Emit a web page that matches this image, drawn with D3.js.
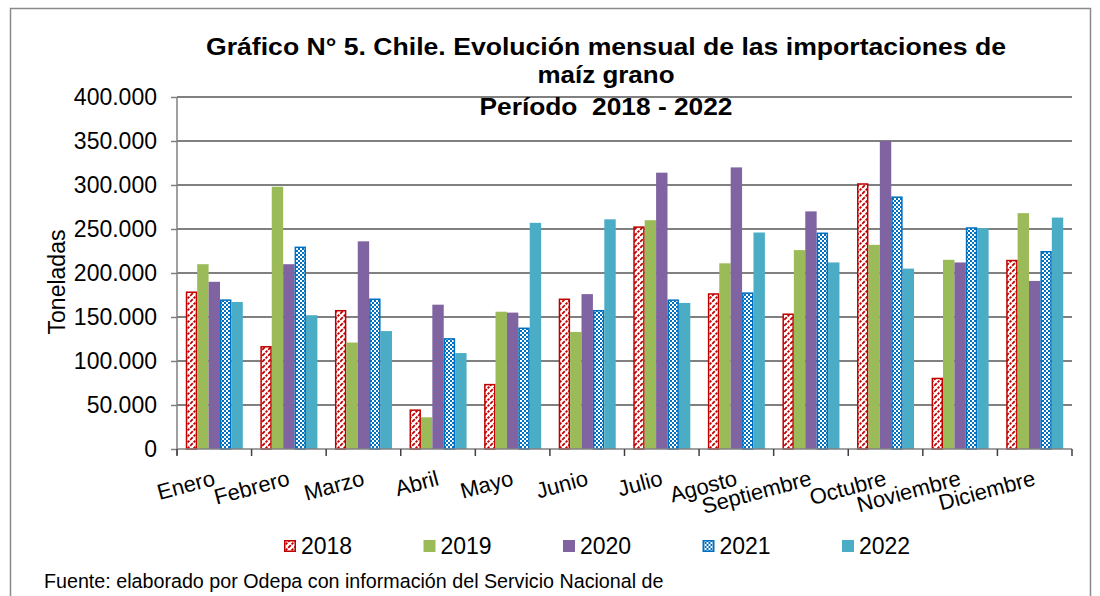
<!DOCTYPE html>
<html><head><meta charset="utf-8">
<script src="https://cdn.jsdelivr.net/npm/d3@7"></script>
<style>body{margin:0;background:#fff}svg{display:block}text{font-family:"Liberation Sans",Arial,sans-serif}</style>
</head><body><svg id="c" width="1100" height="596"></svg>
<script>
const months = ["Enero","Febrero","Marzo","Abril","Mayo","Junio","Julio","Agosto","Septiembre","Octubre","Noviembre","Diciembre"];
const years = ["2018","2019","2020","2021","2022"];
const v2018 = [179000,117000,158000,45000,74000,171000,253000,177000,154000,302000,81000,215000];
const v2019 = [210000,298000,121000,36000,156000,133000,260000,211000,226000,232000,215000,268000];
const v2020 = [190000,210000,236000,164000,155000,176000,314000,320000,270000,350000,212000,191000];
const v2021 = [170000,230000,171000,126000,138000,158000,170000,178000,246000,287000,252000,225000];
const v2022 = [167000,152000,134000,109000,257000,261000,166000,246000,212000,205000,251000,263000];
const yTicks = [0,50000,100000,150000,200000,250000,300000,350000,400000];
const titleLines = ["Gráfico N° 5. Chile. Evolución mensual de las importaciones de","maíz grano","Período  2018 - 2022"];
const yTitle = "Toneladas";
const source = "Fuente: elaborado por Odepa con información del Servicio Nacional de";

const series = [v2018,v2019,v2020,v2021,v2022];
const fills = ["url(#hatch18)","#9BBB59","#8064A2","url(#check21)","#4BACC6"];
const strokes = ["#C00000","none","none","#0070C0","none"];

const svg = d3.select("#c");
const defs = svg.append("defs");
const h = defs.append("pattern").attr("id","hatch18").attr("patternUnits","userSpaceOnUse").attr("width",6).attr("height",6);
h.append("rect").attr("width",6).attr("height",6).attr("fill","#fff");
h.append("path").attr("d","M-1,7 L7,-1 M-1,1 L1,-1 M5,7 L7,5").attr("stroke","#C00000").attr("stroke-width",1.8).attr("stroke-dasharray","2.5,1.2");
const c = defs.append("pattern").attr("id","check21").attr("patternUnits","userSpaceOnUse").attr("width",4).attr("height",4);
c.append("rect").attr("width",4).attr("height",4).attr("fill","#0070C0");
c.append("rect").attr("width",2).attr("height",2).attr("fill","#fff");
c.append("rect").attr("x",2).attr("y",2).attr("width",2).attr("height",2).attr("fill","#fff");

svg.append("rect").attr("x",10.5).attr("y",8.5).attr("width",1080).attr("height",620).attr("fill","none").attr("stroke","#8a8a8a").attr("stroke-width",1.5);

const L=177, R=1072, T=97, B=449;
const x0 = d3.scaleBand().domain(months).range([L,R]).padding(0);
const x1 = d3.scaleBand().domain(years).range([0,x0.bandwidth()]).paddingInner(0).paddingOuter(0.77);
const y = d3.scaleLinear().domain([0,400000]).range([B,T]);

// gridlines
svg.append("g").selectAll("line").data(yTicks.filter(d=>d>0)).join("line")
  .attr("x1",L).attr("x2",R).attr("y1",d=>y(d)).attr("y2",d=>y(d))
  .attr("stroke","#808080").attr("stroke-width",2);

// bars
const g = svg.append("g");
series.forEach((vals,si)=>{
  const o = strokes[si]!=="none"?0.75:0;
  g.append("g").selectAll("rect").data(vals).join("rect")
    .attr("x",(d,i)=>x0(months[i])+x1(years[si]) + o)
    .attr("y",d=>y(d) + o)
    .attr("width",x1.bandwidth() - 2*o)
    .attr("height",d=>B-y(d) - o)
    .attr("fill",fills[si]).attr("stroke",strokes[si]).attr("stroke-width",1.5);
});

// y axis
const fmt = d => d3.format(",")(d).replace(/,/g,".");
const ya = d3.axisLeft(y).tickValues(yTicks).tickFormat(fmt).tickSize(6).tickPadding(14);
const yg = svg.append("g").attr("transform",`translate(${L},0)`).call(ya);
yg.select(".domain").attr("stroke","#808080").attr("stroke-width",1.5).attr("d",`M0,${T}V${B+6}`);
yg.selectAll(".tick line").attr("stroke","#808080").attr("stroke-width",1.5);
yg.selectAll(".tick text").attr("font-size",23).attr("fill","#000").attr("font-family","Liberation Sans, Arial, sans-serif");

// x axis
svg.append("line").attr("x1",L).attr("x2",R).attr("y1",B).attr("y2",B).attr("stroke","#808080").attr("stroke-width",1.5);
const bounds = months.map(m=>x0(m)).concat([R]);
svg.append("g").selectAll("line").data(bounds).join("line")
  .attr("x1",d=>d).attr("x2",d=>d).attr("y1",B).attr("y2",B+7).attr("stroke","#404040").attr("stroke-width",1.5);
svg.append("g").selectAll("text").data(months).join("text")
  .attr("transform",d=>`translate(${x0(d)+x0.bandwidth()/2-2},${B+21}) rotate(-15)`)
  .attr("text-anchor","end").attr("dy","0.7em").attr("font-size",22).attr("fill","#000").text(d=>d);

// y title
svg.append("text").attr("transform","translate(65,282) rotate(-90)").attr("text-anchor","middle")
  .attr("font-size",23).attr("fill","#000").text(yTitle);

// title
const tys=[55,83,115];
const tw=[800,137,253];
svg.append("g").selectAll("text").data(titleLines).join("text")
  .attr("x",(d,i)=>606-tw[i]/2).attr("y",(d,i)=>tys[i])
  .attr("textLength",(d,i)=>tw[i]).attr("lengthAdjust","spacingAndGlyphs")
  .style("white-space","pre")
  .attr("font-size",24).attr("font-weight","bold").attr("fill","#000").text(d=>d);

// legend
const lg = svg.append("g").selectAll("g").data(years).join("g")
  .attr("transform",(d,i)=>`translate(${284+i*139.5},546)`);
lg.append("rect").attr("x",(d,i)=>strokes[i]!=="none"?0.75:0).attr("y",(d,i)=>-6+(strokes[i]!=="none"?0.75:0))
  .attr("width",(d,i)=>strokes[i]!=="none"?10.5:12).attr("height",(d,i)=>strokes[i]!=="none"?10.5:12)
  .attr("fill",(d,i)=>fills[i]).attr("stroke",(d,i)=>strokes[i]).attr("stroke-width",1.5);
lg.append("text").attr("x",17).attr("y",0).attr("dy","0.36em").attr("font-size",23).attr("fill","#000").text(d=>d);

// source
svg.append("text").attr("x",44).attr("y",588).attr("font-size",19.7).attr("fill","#000").text(source);
</script></body></html>
